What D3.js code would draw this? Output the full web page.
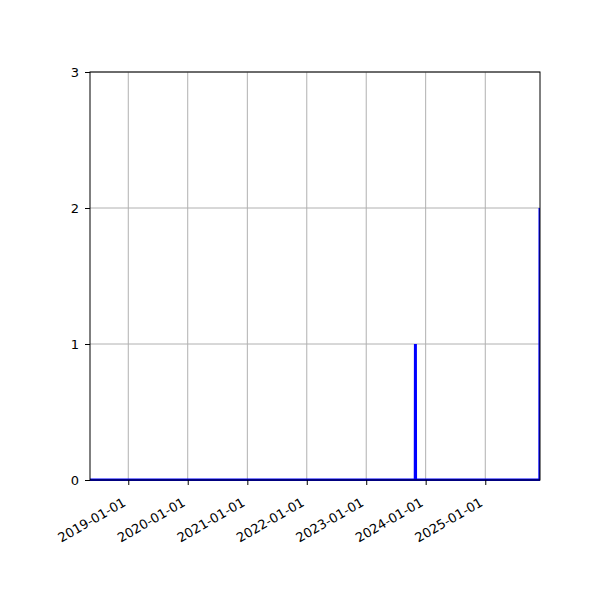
<!DOCTYPE html>
<html>
<head>
<meta charset="utf-8">
<script src="https://cdn.jsdelivr.net/npm/d3@7"></script>
<style>
body{margin:0;background:#fff;}
.axis text{font-family:"DejaVu Sans",sans-serif;font-size:13px;fill:#000;}
</style>
</head>
<body>
<div class="lineChart"><svg></svg></div>
<script>
var dates=["2018-05-11","2023-10-29","2023-10-30","2023-10-31","2025-12-02","2025-12-03"];
var counts=[0,0,1,0,0,2];
var yTicks=[0,1,2,3];
var xTickLabels=["2019-01-01","2020-01-01","2021-01-01","2022-01-01","2023-01-01","2024-01-01","2025-01-01"];

window.onload=function(){
    var width=600;
    var height=600;
    var padding={top:72,right:60,bottom:120,left:90};
    var innerW=width-padding.left-padding.right;
    var innerH=height-padding.top-padding.bottom;

    var parse=d3.timeParse('%Y-%m-%d');
    var dataset=dates.map(function(d,i){
        return [parse(d),counts[i]];
    });

    var xScale=d3.scaleTime()
                .domain(d3.extent(dataset,function(d){return d[0];}))
                .range([0,innerW]);
    var yScale=d3.scaleLinear()
                .domain([0,3])
                .range([innerH,0]);

    var svg=d3.select('.lineChart svg')
                .attr('width',width)
                .attr('height',height);

    var g=svg.append('g')
        .attr('transform','translate('+padding.left+','+padding.top+')');

    var xTicks=xTickLabels.map(parse);

    //网格线
    g.append('g')
        .selectAll('line')
        .data(xTicks)
        .enter()
        .append('line')
        .attr('x1',function(d){return xScale(d);})
        .attr('x2',function(d){return xScale(d);})
        .attr('y1',0)
        .attr('y2',innerH)
        .attr('stroke','#b0b0b0')
        .attr('stroke-width',1);
    g.append('g')
        .selectAll('line')
        .data(yTicks)
        .enter()
        .append('line')
        .attr('x1',0)
        .attr('x2',innerW)
        .attr('y1',function(d){return yScale(d);})
        .attr('y2',function(d){return yScale(d);})
        .attr('stroke','#b0b0b0')
        .attr('stroke-width',1);

    svg.append('clipPath')
        .attr('id','clip')
        .append('rect')
        .attr('width',innerW)
        .attr('height',innerH+2)
        .attr('y',-1);

    var linePath=d3.line()
                .x(function(d){return xScale(d[0]);})
                .y(function(d){return yScale(d[1]);});

    g.append('path')
        .attr('clip-path','url(#clip)')
        .attr('d',linePath(dataset))
        .attr('fill','none')
        .attr('stroke','#0000ff')
        .attr('stroke-width',3)
        .attr('stroke-linejoin','miter');

    //边框
    g.append('rect')
        .attr('width',innerW)
        .attr('height',innerH)
        .attr('fill','none')
        .attr('stroke','#000')
        .attr('stroke-width',1);

    var xAxis=d3.axisBottom()
                .scale(xScale)
                .tickValues(xTicks)
                .tickFormat(d3.timeFormat('%Y-%m-%d'))
                .tickSize(5)
                .tickPadding(3);
    var xg=g.append('g')
        .attr('class','axis')
        .attr('transform','translate(0,'+innerH+')')
        .call(xAxis);
    xg.select('.domain').remove();
    xg.selectAll('text')
        .attr('text-anchor','end')
        .attr('dy',null)
        .attr('y',null)
        .attr('transform','translate(-2,25) rotate(-30)');

    var yAxis=d3.axisLeft()
                .scale(yScale)
                .tickValues(yTicks)
                .tickFormat(d3.format('d'))
                .tickSize(5)
                .tickPadding(6);
    var yg=g.append('g')
        .attr('class','axis')
        .call(yAxis);
    yg.select('.domain').remove();
};
</script>
</body>
</html>
